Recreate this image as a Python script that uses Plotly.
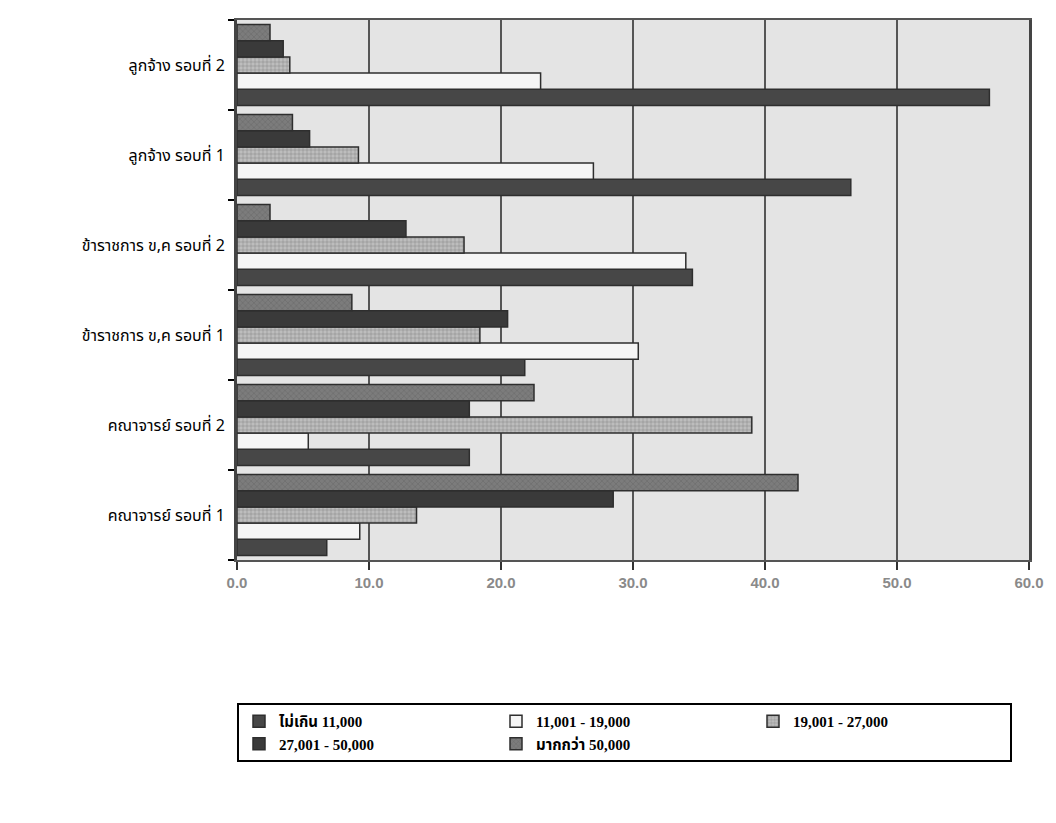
import plotly.graph_objects as go

categories = [
    "คณาจารย์ รอบที่ 1",
    "คณาจารย์ รอบที่ 2",
    "ข้าราชการ ข,ค รอบที่ 1",
    "ข้าราชการ ข,ค รอบที่ 2",
    "ลูกจ้าง รอบที่ 1",
    "ลูกจ้าง รอบที่ 2",
]

series_names = [
    "ไม่เกิน 11,000",
    "11,001 - 19,000",
    "19,001 - 27,000",
    "27,001 - 50,000",
    "มากกว่า 50,000",
]

s1_upto_11000 = [6.8, 17.6, 21.8, 34.5, 46.5, 57.0]
s2_11001_19000 = [9.3, 5.4, 30.4, 34.0, 27.0, 23.0]
s3_19001_27000 = [13.6, 39.0, 18.4, 17.2, 9.2, 4.0]
s4_27001_50000 = [28.5, 17.6, 20.5, 12.8, 5.5, 3.5]
s5_over_50000 = [42.5, 22.5, 8.7, 2.5, 4.2, 2.5]

x_ticks = [0, 10, 20, 30, 40, 50, 60]

series_values = [s1_upto_11000, s2_11001_19000, s3_19001_27000, s4_27001_50000, s5_over_50000]
colors = ["#474747", "#f5f5f5", "#bdbdbd", "#3a3a3a", "#7c7c7c"]
patterns = ["", "", "+", "", "x"]

thai_font = "Noto Sans Thai, Garuda, Loma, Norasi, Tlwg Typo, Noto Sans, sans-serif"

fig = go.Figure()
for name, vals, col, pat in zip(series_names, series_values, colors, patterns):
    fig.add_trace(go.Bar(
        y=categories, x=vals, name=name, orientation="h",
        marker=dict(color=col, line=dict(color="#2e2e2e", width=1.5),
                    pattern=dict(shape=pat, fgcolor="#555555", size=4, solidity=0.25)),
    ))

fig.update_layout(
    width=1056, height=823,
    margin=dict(l=237, r=24, t=20, b=263),
    barmode="group", bargap=0.1, bargroupgap=0.0,
    paper_bgcolor="white", plot_bgcolor="#e4e4e4",
    font=dict(family=thai_font, color="black"),
    showlegend=True,
    legend=dict(
        orientation="h", x=0.0, xanchor="left", y=-0.265, yanchor="top",
        entrywidth=212, entrywidthmode="pixels",
        bordercolor="black", borderwidth=2, bgcolor="white",
        font=dict(size=15, color="black", family="Liberation Serif, " + thai_font, weight="bold"),
        traceorder="normal", itemwidth=30,
    ),
)

fig.update_xaxes(
    range=[0, 60], tickvals=x_ticks, tickformat=".1f",
    showgrid=True, gridcolor="#555555", gridwidth=2,
    showline=True, linecolor="#555555", linewidth=2, mirror=True,
    ticks="outside", ticklen=8, tickcolor="#333333", tickwidth=2,
    tickfont=dict(size=15, color="#8a8a8a", family="Liberation Sans", weight="bold"),
    zeroline=False,
)
fig.update_yaxes(
    categoryorder="array", categoryarray=categories,
    tickson="boundaries", ticks="outside", ticklen=6, tickcolor="black", tickwidth=2,
    showline=True, linecolor="#444444", linewidth=3, mirror=True,
    tickfont=dict(size=16, color="black", family=thai_font),
    showgrid=False, ticklabelstandoff=6,
)

fig.write_html("out.html")
